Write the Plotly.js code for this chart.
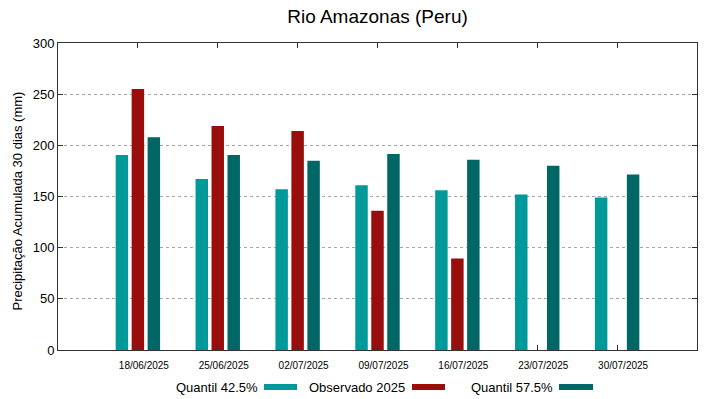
<!DOCTYPE html>
<html>
<head>
<meta charset="utf-8">
<script src="https://cdn.plot.ly/plotly-3.0.1.min.js"></script>
<style>html,body{margin:0;padding:0;background:#fff}#chart{width:719px;height:399px}</style>
</head>
<body>
<div id="chart"></div>
<script>
const dates = ["18/06/2025","25/06/2025","02/07/2025","09/07/2025","16/07/2025","23/07/2025","30/07/2025"];
const quantil425 = [190.5, 167, 157, 161, 156, 152, 149];
const observado2025 = [255, 219, 214, 136, 89.5, null, null];
const quantil575 = [208, 190.5, 185, 191.5, 186, 180, 171.5];
const seriesNames = ["Quantil 42.5%", "Observado 2025", "Quantil 57.5%"];
const colors = ["#009999", "#990d0d", "#006666"];
const yTitle = "Precipitação Acumulada 30 dias (mm)";

const font = "Liberation Sans, Arial, sans-serif";
const series = [quantil425, observado2025, quantil575];
const traces = series.map((y, i) => ({
  type: "bar", x: dates, y: y, name: seriesNames[i],
  marker: {color: colors[i], line: {width: 0}}, showlegend: false,
  hoverinfo: "y"
}));

const W = 639, H = 307, L = 58, T = 43;
const px = x => (x - L) / W;
const py = y => (T + H - y) / H;

// legend (gnuplot style: text then swatch)
const legPos = [[217, 264, 297], [357, 412, 445], [512, 559, 593]];
const annotations = [], shapes = [];
legPos.forEach((p, i) => {
  annotations.push({xref: "paper", yref: "paper", x: px(p[0]), y: py(387),
    showarrow: false, text: seriesNames[i], font: {family: font, size: 13, color: "#000"},
    xanchor: "center", yanchor: "middle"});
  shapes.push({type: "rect", xref: "paper", yref: "paper",
    x0: px(p[1]), x1: px(p[2]), y0: py(390), y1: py(384),
    fillcolor: colors[i], line: {width: 0}});
});
annotations.push({xref: "paper", yref: "paper", x: px(17), y: py(201.5), showarrow: false,
  text: yTitle, textangle: -90, font: {family: font, size: 13, color: "#000"},
  xanchor: "center", yanchor: "middle"});

const layout = {
  width: 719, height: 399,
  margin: {l: 58, r: 22, t: 43, b: 49},
  paper_bgcolor: "#fff", plot_bgcolor: "#fff",
  font: {family: font, color: "#000"},
  title: {text: "Rio Amazonas (Peru)", font: {family: font, size: 19, color: "#000"},
    x: 0.5, xref: "paper", xanchor: "center", y: 1 - 16/399, yanchor: "middle"},
  barmode: "group", bargap: 0.4, bargroupgap: 0.22,
  xaxis: {type: "category", range: [-1, 7], showline: true, linecolor: "#333", linewidth: 1,
    mirror: "ticks", ticks: "inside", ticklen: 5, tickcolor: "#333", showgrid: false,
    tickfont: {family: font, size: 10, color: "#000"}, ticklabelshift: 6, ticklabelstandoff: 6,
    fixedrange: true},
  yaxis: {range: [0, 300], tickvals: [0, 50, 100, 150, 200, 250, 300], showline: true,
    linecolor: "#333", linewidth: 1, mirror: "ticks", ticks: "inside", ticklen: 5, tickcolor: "#333",
    showgrid: true, gridcolor: "#a8a8a8", griddash: "dot", gridwidth: 1, zeroline: false,
    tickfont: {family: font, size: 13, color: "#000"},
    automargin: false, fixedrange: true},
  annotations: annotations, shapes: shapes,
  showlegend: false
};
Plotly.newPlot("chart", traces, layout, {displayModeBar: false, staticPlot: true});
</script>
</body>
</html>
